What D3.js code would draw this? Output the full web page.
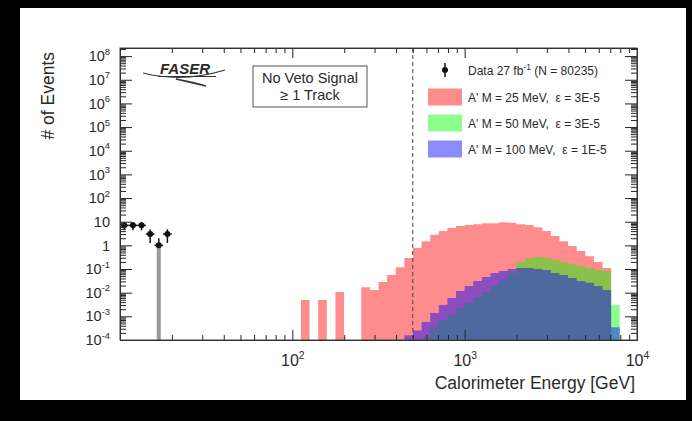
<!DOCTYPE html>
<html>
<head>
<meta charset="UTF-8">
<title>Calorimeter Energy</title>
<script src="https://d3js.org/d3.v7.min.js"></script>
<style>
  body { margin: 0; background: #000; }
  svg { display: block; }
  text { font-family: "Liberation Sans", Arial, Helvetica, sans-serif; fill: #2a2a2a; }
  .axis path, .axis line { stroke: #222; }
</style>
</head>
<body>
<svg id="chart" width="692" height="421"></svg>
<script>
// lower bin edges, log10(E / GeV), every bin 0.05 wide
const binLog = [2.05, 2.10, 2.15, 2.20, 2.25, 2.30, 2.35, 2.40, 2.45, 2.50,
                2.55, 2.60, 2.65, 2.70, 2.75, 2.80, 2.85, 2.90, 2.95, 3.00,
                3.05, 3.10, 3.15, 3.20, 3.25, 3.30, 3.35, 3.40, 3.45, 3.50,
                3.55, 3.60, 3.65, 3.70, 3.75, 3.80, 3.85, 3.90];

// A' M = 25 MeV, eps = 3E-5
const ap25 = [0.0049, 0, 0.0049, 0, 0.0107, 0, 0, 0.017, 0.013, 0.028,
              0.056, 0.12, 0.29, 0.78, 1.5, 2.8, 4.0, 5.4, 6.6, 7.2,
              7.9, 8.7, 8.7, 9.5, 9.0, 7.9, 7.2, 5.9, 4.0, 2.5,
              1.5, 0.93, 0.58, 0.35, 0.20, 0.11, 0, 0];
// A' M = 50 MeV, eps = 3E-5
const ap50 = [0, 0, 0, 0, 0, 0, 0, 0, 0, 0,
              0, 0, 0, 0, 1.3e-4, 3.5e-4, 7e-4, 1.15e-3, 2.2e-3, 3.6e-3,
              6.6e-3, 0.0107, 0.019, 0.034, 0.068, 0.2, 0.29, 0.32, 0.29, 0.24,
              0.2, 0.16, 0.135, 0.11, 0.091, 0.083, 0.003, 0];
// A' M = 100 MeV, eps = 1E-5
const ap100 = [0, 0, 0, 0, 0, 0, 0, 0, 0, 0,
               0, 0, 1.6e-4, 2.5e-4, 5.7e-4, 1.4e-3, 3e-3, 5.9e-3, 0.0117, 0.019,
               0.031, 0.046, 0.068, 0.083, 0.10, 0.11, 0.11, 0.10, 0.09, 0.068,
               0.056, 0.042, 0.031, 0.026, 0.019, 0.013, 3.5e-4, 0];

// data: bin lower edges (log10 GeV) and event counts
const dataLog = [1.00, 1.05, 1.10, 1.15, 1.20, 1.25];
const dataN = [7, 7, 7, 3, 1, 3];

const legendNames = ["A' M = 25 MeV,\u00a0\u00a0\u03b5 = 3E-5", "A' M = 50 MeV,\u00a0\u00a0\u03b5 = 3E-5", "A' M = 100 MeV,\u00a0\u00a0\u03b5 = 1E-5"];
const yMajor = [1e-4, 1e-3, 1e-2, 1e-1, 1, 10, 1e2, 1e3, 1e4, 1e5, 1e6, 1e7, 1e8];
const xMajor = [10, 100, 1000, 10000];
const cutE = 500;

const binW = 0.05;
const svg = d3.select("#chart");

// white page on black
svg.append("rect").attr("x", 20).attr("y", 8).attr("width", 666).attr("height", 392).attr("fill", "#fff");

const x = d3.scaleLog().domain([10, 1e4]).range([120, 637]);
const y = d3.scaleLog().domain([1e-4, 2.2e8]).range([340, 48]);
const bottom = y.range()[0];

//histograms, overlaid with transparency
function histPath(vals) {
    let p = "";
    vals.forEach((v, i) => {
        if (v <= 0) return;
        const x0 = x(Math.pow(10, binLog[i])), x1 = x(Math.pow(10, binLog[i] + binW));
        p += "M" + x0 + "," + bottom + "V" + y(v) + "H" + x1 + "V" + bottom + "Z";
    });
    return p;
}
const series = [
    { vals: ap25, color: "#ff0000" },
    { vals: ap50, color: "#00ff00" },
    { vals: ap100, color: "#0000ff" }
];
svg.append("g").selectAll("path")
    .data(series)
    .join("path")
    .attr("d", d => histPath(d.vals))
    .attr("fill", d => d.color)
    .attr("fill-opacity", 0.45);

// cut line
svg.append("line")
    .attr("x1", x(cutE)).attr("x2", x(cutE))
    .attr("y1", 48).attr("y2", bottom)
    .attr("stroke", "#444").attr("stroke-width", 1).attr("stroke-dasharray", "4,3");

// data points
const pts = svg.append("g");
dataN.forEach((n, i) => {
    const x0 = x(Math.pow(10, dataLog[i])), x1 = x(Math.pow(10, dataLog[i] + binW));
    const xc = x(Math.pow(10, dataLog[i] + binW / 2));
    const e = Math.sqrt(n);
    if (n - e <= 0) {
        pts.append("rect").attr("x", xc - 2).attr("width", 4)
            .attr("y", y(n)).attr("height", bottom - y(n)).attr("fill", "#999");
    } else {
        pts.append("line").attr("x1", xc).attr("x2", xc).attr("y1", y(n - e)).attr("y2", y(n))
            .attr("stroke", "#111").attr("stroke-width", 1.5);
    }
    pts.append("line").attr("x1", xc).attr("x2", xc).attr("y1", y(n + e)).attr("y2", y(n))
        .attr("stroke", "#111").attr("stroke-width", 1.5);
    pts.append("line").attr("x1", x0).attr("x2", x1).attr("y1", y(n)).attr("y2", y(n))
        .attr("stroke", "#111").attr("stroke-width", 1.5);
    pts.append("circle").attr("cx", xc).attr("cy", y(n)).attr("r", 3).attr("fill", "#111");
});

// axes
const yMinor = y.ticks(30).filter(v => yMajor.indexOf(v) < 0);
const xMinor = x.ticks().filter(v => xMajor.indexOf(v) < 0);

function supLabels(sel, size) {
    sel.selectAll(".tick text").each(function (d) {
        const t = d3.select(this).text("").style("font-size", size + "px").attr("fill", "#2a2a2a");
        const ex = Math.round(Math.log10(d));
        if (ex === 0) { t.append("tspan").text("1"); return; }
        if (ex === 1) { t.append("tspan").text("10"); return; }
        t.append("tspan").text("10");
        t.append("tspan").attr("dy", -size * 0.45).style("font-size", (size * 0.65) + "px").text(ex);
    });
}

// left
svg.append("g").attr("class", "axis").attr("transform", "translate(120,0)")
    .call(d3.axisLeft(y).tickValues(yMinor).tickSize(-6).tickSizeOuter(0).tickFormat(""));
svg.append("g").attr("class", "axis").attr("transform", "translate(120,0)")
    .call(d3.axisLeft(y).tickValues(yMajor).tickSize(-12).tickSizeOuter(0).tickPadding(10))
    .call(g => supLabels(g, 14.5));
// right
svg.append("g").attr("class", "axis").attr("transform", "translate(637,0)")
    .call(d3.axisRight(y).tickValues(yMinor).tickSize(-6).tickSizeOuter(0).tickFormat(""));
svg.append("g").attr("class", "axis").attr("transform", "translate(637,0)")
    .call(d3.axisRight(y).tickValues(yMajor).tickSize(-12).tickSizeOuter(0).tickFormat(""));
// bottom
svg.append("g").attr("class", "axis").attr("transform", "translate(0," + bottom + ")")
    .call(d3.axisBottom(x).tickValues(xMinor).tickSize(-5).tickSizeOuter(0).tickFormat(""));
svg.append("g").attr("class", "axis").attr("transform", "translate(0," + bottom + ")")
    .call(d3.axisBottom(x).tickValues(xMajor).tickSize(-10).tickSizeOuter(0).tickPadding(15))
    .call(g => supLabels(g, 16))
    .call(g => g.selectAll(".tick").filter(d => d === 10).select("text").remove());
// top
svg.append("g").attr("class", "axis").attr("transform", "translate(0,48)")
    .call(d3.axisTop(x).tickValues(xMinor).tickSize(-5).tickSizeOuter(0).tickFormat(""));
svg.append("g").attr("class", "axis").attr("transform", "translate(0,48)")
    .call(d3.axisTop(x).tickValues(xMajor).tickSize(-10).tickSizeOuter(0).tickFormat(""));

// frame
svg.append("rect").attr("x", 120).attr("y", 48).attr("width", 517).attr("height", bottom - 48)
    .attr("fill", "none").attr("stroke", "#444").attr("stroke-width", 1);

// titles
svg.append("text").attr("x", 635).attr("y", 389).attr("text-anchor", "end")
    .style("font-size", "17.5px").text("Calorimeter Energy [GeV]");
svg.append("text").attr("transform", "translate(54,52) rotate(-90)").attr("text-anchor", "end")
    .style("font-size", "17.5px").text("# of Events");

// FASER logo
const logo = svg.append("g");
logo.append("path").attr("d", "M143,73 Q183,83 225,70").attr("fill", "none").attr("stroke", "#333").attr("stroke-width", 1.2);
logo.append("path").attr("d", "M176,79 Q192,82 206,86 Q193,83 176,79 Z").attr("fill", "#333").attr("stroke", "#333").attr("stroke-width", 1.5);
logo.append("text").attr("x", 160).attr("y", 74).style("font-size", "15px").style("font-weight", "bold")
    .style("font-style", "italic").text("FASER");
logo.append("line").attr("x1", 158).attr("x2", 216).attr("y1", 76.5).attr("y2", 76.5).attr("stroke", "#333").attr("stroke-width", 1.2);

// selection box
svg.append("rect").attr("x", 253).attr("y", 66).attr("width", 114).attr("height", 41)
    .attr("fill", "#fff").attr("stroke", "#555").attr("stroke-width", 1);
svg.append("text").attr("x", 310).attr("y", 83).attr("text-anchor", "middle").style("font-size", "14.5px").text("No Veto Signal");
svg.append("text").attr("x", 310).attr("y", 100).attr("text-anchor", "middle").style("font-size", "14.5px").text("\u2265 1 Track");

// legend
const lg = svg.append("g");
lg.append("line").attr("x1", 445).attr("x2", 445).attr("y1", 63).attr("y2", 77).attr("stroke", "#111").attr("stroke-width", 1.5);
lg.append("circle").attr("cx", 445).attr("cy", 70).attr("r", 3).attr("fill", "#111");
const dt = lg.append("text").attr("x", 468).attr("y", 74.5).style("font-size", "12px");
dt.append("tspan").text("Data 27 fb");
dt.append("tspan").attr("dy", -5).style("font-size", "8.5px").text("-1");
dt.append("tspan").attr("dy", 5).text(" (N = 80235)");
lg.selectAll(".entry")
    .data(series)
    .join("g")
    .attr("transform", (d, i) => "translate(0," + (97 + i * 26) + ")")
    .each(function (d, i) {
        const g = d3.select(this);
        g.append("rect").attr("x", 428).attr("y", -8.5).attr("width", 34).attr("height", 17)
            .attr("fill", d.color).attr("fill-opacity", 0.45);
        g.append("text").attr("x", 468).attr("y", 4.5).style("font-size", "12px").text(legendNames[i]);
    });
</script>
</body>
</html>
